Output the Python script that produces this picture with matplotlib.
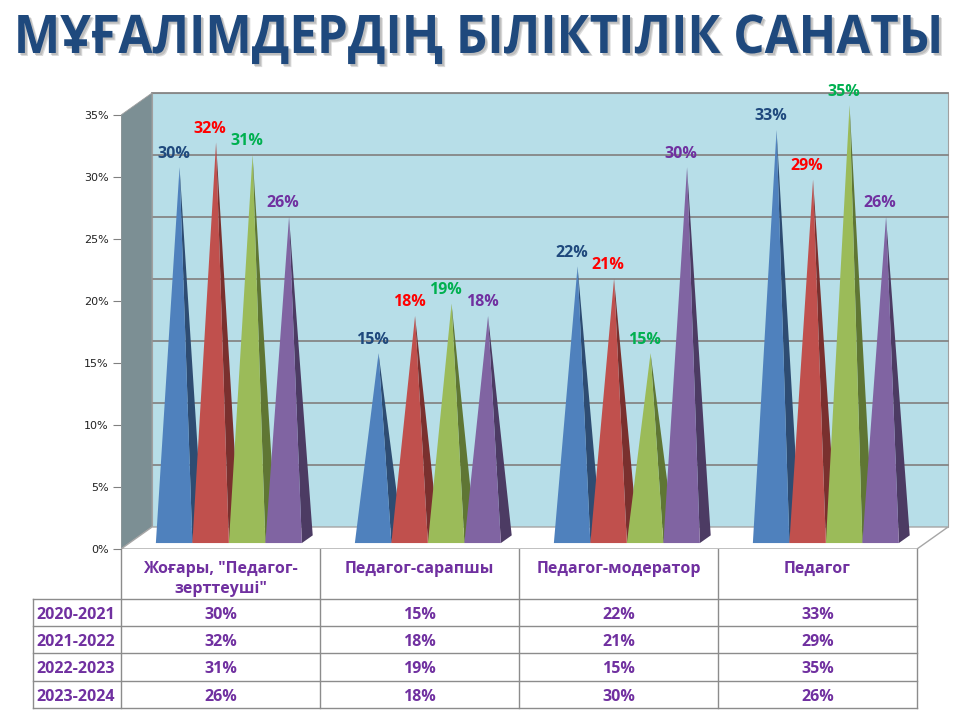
import numpy as np
import matplotlib
matplotlib.use("Agg")
import matplotlib.pyplot as plt
from matplotlib.patches import Polygon
from matplotlib.patheffects import AbstractPathEffect
from matplotlib.transforms import Affine2D

# ---------------- data ----------------
title = "МҰҒАЛІМДЕРДІҢ БІЛІКТІЛІК САНАТЫ"
categories = ['Жоғары, "Педагог-\nзерттеуші"', 'Педагог-сарапшы',
              'Педагог-модератор', 'Педагог']
years = ['2020-2021', '2021-2022', '2022-2023', '2023-2024']
v2020 = [30, 15, 22, 33]
v2021 = [32, 18, 21, 29]
v2022 = [31, 19, 15, 35]
v2023 = [26, 18, 30, 26]
yticks = [0, 5, 10, 15, 20, 25, 30, 35]

series = [v2020, v2021, v2022, v2023]

# ---------------- style ----------------
front_col = ['#4F81BD', '#C0504D', '#9BBB59', '#8064A2']
side_col = ['#2E4C72', '#7A302E', '#5F7634', '#4C3B63']
label_col = ['#1F497D', '#FF0000', '#00B050', '#7030A0']
TXT = '#7030A0'
FONT = ['Open Sans', 'Noto Sans', 'DejaVu Sans']
LINE = '#8C8C8C'


class VStretch(AbstractPathEffect):
    def __init__(self, sy, cy, off=(0, 0), color=None, alpha=None):
        super().__init__()
        self.sy, self.cy, self.off = sy, cy, off
        self.color, self.alpha = color, alpha

    def draw_path(self, renderer, gc, tpath, affine, rgbFace=None):
        gc0 = renderer.new_gc()
        gc0.copy_properties(gc)
        if self.color is not None:
            rgbFace = matplotlib.colors.to_rgba(self.color)
        if self.alpha is not None:
            gc0.set_alpha(self.alpha)
        tr = affine + Affine2D().translate(0, -self.cy).scale(1, self.sy) \
            .translate(self.off[0], self.cy + self.off[1])
        renderer.draw_path(gc0, tpath, tr, rgbFace)
        gc0.restore()


W_PX, H_PX = 960, 720
fig = plt.figure(figsize=(9.6, 7.2), dpi=100)
fig.patch.set_facecolor('white')

# geometry (pixels)
L, R, B, T = 121, 952, 549, 88
U = 199.0          # px per category
PXY = 12.4         # px per percent
DX = 31 / U        # depth offset in x data units
DY = 22 / PXY      # depth offset in y data units

ax = fig.add_axes([L / W_PX, (H_PX - B) / H_PX, (R - L) / W_PX, (B - T) / H_PX])
ax.set_xlim(-0.5, -0.5 + (R - L) / U)
ax.set_ylim(0, (B - T) / PXY)
ax.patch.set_visible(False)
for s in ax.spines.values():
    s.set_visible(False)
ax.set_xticks([])
ax.set_yticks(yticks)
ax.set_yticklabels([f'{t}%' for t in yticks])
ax.tick_params(axis='y', length=6, width=0.8, color='#808080', labelsize=8,
               pad=3, labelcolor='#222222')

n = len(categories)
x0, x1 = -0.5, n - 0.5
top = max(yticks)

# back wall
ax.add_patch(Polygon([(x0 + DX, DY), (x1 + DX, DY), (x1 + DX, top + DY), (x0 + DX, top + DY)],
                     closed=True, facecolor='#B7DEE8', edgecolor='#A0A0A0', lw=0.8, zorder=1))
for t in yticks[1:]:
    ax.plot([x0 + DX, x1 + DX], [t + DY, t + DY], color='#868686', lw=1.3, zorder=1.5)
# left wall
ax.add_patch(Polygon([(x0, 0), (x0, top), (x0 + DX, top + DY), (x0 + DX, DY)],
                     closed=True, facecolor='#7C8F94', edgecolor='#A0A0A0', lw=0.6, zorder=2))
# floor
ax.add_patch(Polygon([(x0, 0), (x1, 0), (x1 + DX, DY), (x0 + DX, DY)],
                     closed=True, facecolor='white', edgecolor='#A6A6A6', lw=1.0, zorder=2))

# pyramids
Wp = 36.5 / U
d0, d1 = 0.27, 0.62
dm = (d0 + d1) / 2
for i in range(n):
    for j, vals in enumerate(series):
        v = vals[i]
        xl = i - 2 * Wp + j * Wp
        xr = xl + Wp
        FL = (xl + d0 * DX, d0 * DY)
        FR = (xr + d0 * DX, d0 * DY)
        BR = (xr + d1 * DX, d1 * DY)
        AP = (xl + Wp / 2 + dm * DX, dm * DY + v)
        z = 3 + j * 0.1
        ax.add_patch(Polygon([FR, BR, AP], closed=True, facecolor=side_col[j],
                             edgecolor='none', zorder=z))
        ax.add_patch(Polygon([FL, FR, AP], closed=True, facecolor=front_col[j],
                             edgecolor='none', zorder=z + 0.05))
        ax.text(AP[0] - 6 / U, AP[1] + 0.45, f'{v}%', ha='center', va='bottom',
                fontsize=11.5, fontweight='bold', color=label_col[j],
                family=FONT, zorder=10)

# ---------------- table ----------------
tax = fig.add_axes([0, 0, 1, 1], zorder=-1)
tax.set_xlim(0, W_PX)
tax.set_ylim(H_PX, 0)
tax.axis('off')

col_x = [L + U * k for k in range(n + 1)]
row_top = [599, 626, 653, 681]
row_bot = 708
left_x = 33
for cx in col_x:
    tax.plot([cx, cx], [B, row_bot], color=LINE, lw=1)
tax.plot([left_x, left_x], [row_top[0], row_bot], color=LINE, lw=1)
for ry in row_top + [row_bot]:
    tax.plot([left_x, col_x[-1]], [ry, ry], color=LINE, lw=1)

for i, cat in enumerate(categories):
    cxm = (col_x[i] + col_x[i + 1]) / 2
    for k, line in enumerate(cat.split('\n')):
        tax.text(cxm, 573 + 20 * k, line, ha='center', va='baseline', fontsize=11.5,
                 fontweight='bold', color=TXT, family=FONT)

for r, (yr, vals) in enumerate(zip(years, series)):
    base = row_top[r] + 20
    tax.text(left_x + 3, base, yr, ha='left', va='baseline', fontsize=11.5,
             fontweight='bold', color=TXT, family=FONT)
    for i in range(n):
        cxm = (col_x[i] + col_x[i + 1]) / 2
        tax.text(cxm, base, f'{vals[i]}%', ha='center', va='baseline', fontsize=11.5,
                 fontweight='bold', color=TXT, family=FONT)

# ---------------- title ----------------
base_y = 53
fs0 = 40
tt = fig.text(478.5 / W_PX, 1 - base_y / H_PX, title, ha='center', va='baseline',
              fontsize=fs0, fontweight='bold', color='#1F497D', family=FONT)
fig.canvas.draw()
rend = fig.canvas.get_renderer()
w = tt.get_window_extent(rend).width
fs = fs0 * 929 / w
tt.set_fontsize(fs)
cap = 0.714 * fs * 100 / 72
sy = 38 / cap
cy = H_PX - base_y
tt.set_path_effects([
    VStretch(sy, cy, off=(3, -3), color='#9A9A9A', alpha=0.35),
    VStretch(sy, cy, off=(2, -2), color='#8A8A8A', alpha=0.35),
    VStretch(sy, cy),
])

fig.savefig('out.png', dpi=100)
